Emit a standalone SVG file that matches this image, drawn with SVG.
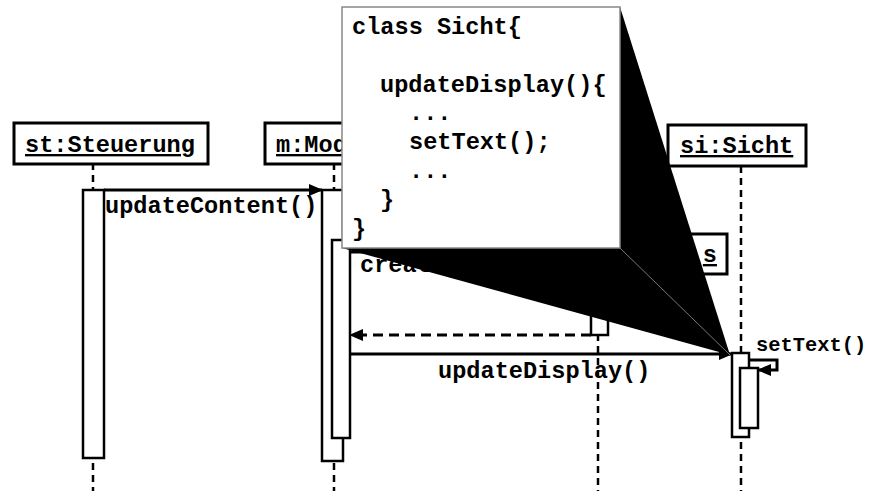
<svg xmlns="http://www.w3.org/2000/svg" width="883" height="491" viewBox="0 0 883 491">
<style>
text{font-family:"Liberation Mono","Courier New",monospace;font-weight:bold;font-size:23.6px;fill:#000}
.small{font-size:20.4px}
.obj{fill:#fff;stroke:#000;stroke-width:3}
.act{fill:#fff;stroke:#000;stroke-width:2.5}
.life{stroke:#000;stroke-width:2.5;stroke-dasharray:7 5;fill:none}
.msg{stroke:#000;stroke-width:3;fill:none}
.ret{stroke:#000;stroke-width:3;stroke-dasharray:10 6;fill:none}
.u{text-decoration:underline}
</style>
<defs>
<marker id="ah" markerWidth="14" markerHeight="12" refX="13" refY="6" orient="auto" markerUnits="userSpaceOnUse">
<path d="M0,0 L14,6 L0,12 Z" fill="#000"/>
</marker>
</defs>
<g id="lifelines">
<line class="life" x1="93" y1="163" x2="93" y2="491"/>
<line class="life" x1="334" y1="163" x2="334" y2="491"/>
<line class="life" x1="598" y1="274" x2="598" y2="491"/>
<line class="life" x1="741" y1="166" x2="741" y2="491"/>
</g>
<g id="st">
<rect class="obj" x="14" y="123" width="194" height="41"/>
<text class="u" x="25" y="152">st:Steuerung</text>
<rect class="act" x="83" y="190" width="21" height="268"/>
</g>
<g id="m">
<rect class="obj" x="265" y="123" width="122" height="41"/>
<text class="u" x="276" y="152">m:Model</text>
<rect class="act" x="322" y="190" width="21" height="271"/>
<rect class="act" x="332" y="240" width="18" height="198"/>
</g>
<g id="obj3">
<rect class="obj" x="469" y="234" width="258" height="40"/>
<text class="u" x="717" y="262" text-anchor="end">s</text>
<rect class="act" x="591" y="300" width="17" height="35"/>
</g>
<g id="si">
<rect class="obj" x="668" y="125" width="138" height="41"/>
<text class="u" x="680" y="153">si:Sicht</text>
<rect class="act" x="732" y="353" width="17" height="84"/>
<rect class="act" x="740" y="368" width="18" height="60"/>
</g>
<g id="connectors">
<line class="msg" x1="104" y1="190" x2="322" y2="190" marker-end="url(#ah)"/>
<text x="105" y="213">updateContent()</text>
<line class="msg" x1="350" y1="252" x2="469" y2="252" marker-end="url(#ah)"/>
<text x="360" y="272">create()</text>
<line class="ret" x1="591" y1="335" x2="350" y2="335" marker-end="url(#ah)"/>
<line class="msg" x1="350" y1="354" x2="732" y2="354" marker-end="url(#ah)"/>
<text x="438" y="378">updateDisplay()</text>
<polyline class="msg" points="749,360 777,360 777,370 758,370" marker-end="url(#ah)"/>
<text class="small" x="756" y="351">setText()</text>
</g>
<g id="zoom">
<polygon points="620,7 730,355 342,248" fill="#000"/>
<line x1="620" y1="248" x2="730" y2="355" stroke="#777" stroke-width="1"/>
</g>
<g id="code">
<rect x="342" y="7" width="278" height="241" fill="#fff" stroke="#888" stroke-width="1.5"/>
<text x="352" y="34">class Sicht{</text>
<text x="380" y="92">updateDisplay(){</text>
<text x="409" y="120">...</text>
<text x="409" y="149">setText();</text>
<text x="409" y="178">...</text>
<text x="380" y="207">}</text>
<text x="352" y="236">}</text>
</g>
</svg>
